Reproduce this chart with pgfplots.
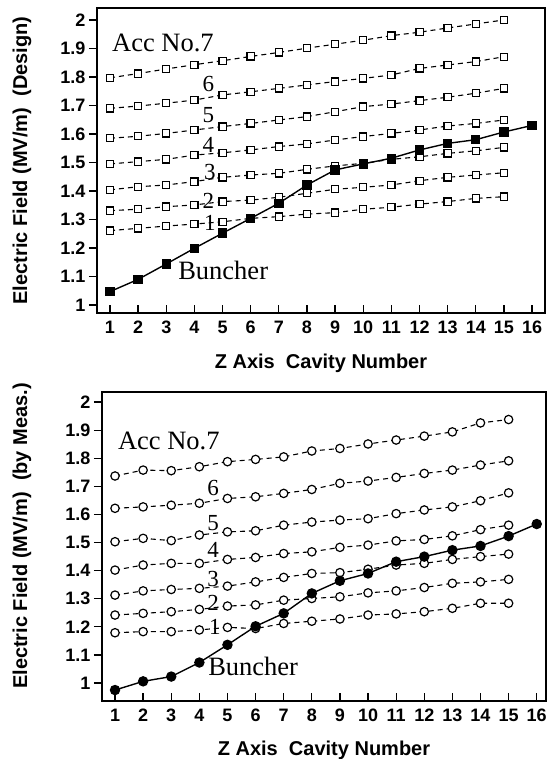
\documentclass[border=0pt]{standalone}
\usepackage{pgfplots}
\pgfplotsset{compat=1.18}
\usepackage{pgfplotstable}
\usepackage{fontspec}
\setmainfont{Liberation Serif}
\newfontfamily\lsans{Liberation Sans}

\pgfplotstableread{
x s1 s2 s3 s4 s5 s6 s7
1 1.261 1.331 1.404 1.495 1.585 1.690 1.797
2 1.269 1.336 1.415 1.503 1.592 1.698 1.812
3 1.277 1.345 1.421 1.511 1.602 1.708 1.828
4 1.284 1.351 1.433 1.526 1.614 1.719 1.843
5 1.292 1.363 1.448 1.534 1.626 1.737 1.857
6 1.304 1.368 1.456 1.544 1.637 1.748 1.872
7 1.310 1.378 1.462 1.556 1.649 1.760 1.886
8 1.319 1.392 1.476 1.565 1.661 1.772 1.901
9 1.324 1.406 1.488 1.579 1.678 1.784 1.915
10 1.336 1.413 1.497 1.591 1.696 1.795 1.929
11 1.343 1.421 1.511 1.602 1.705 1.807 1.945
12 1.354 1.436 1.520 1.614 1.717 1.830 1.957
13 1.363 1.448 1.532 1.628 1.729 1.842 1.972
14 1.374 1.456 1.541 1.637 1.743 1.854 1.986
15 1.380 1.464 1.553 1.649 1.760 1.871 2.000
}\design

\pgfplotstableread{
x b
1 1.047
2 1.090
3 1.144
4 1.199
5 1.252
6 1.304
7 1.357
8 1.421
9 1.474
10 1.495
11 1.515
12 1.544
13 1.567
14 1.580
15 1.607
16 1.630
}\designb

\pgfplotstableread{
x s1 s2 s3 s4 s5 s6 s7
1 1.179 1.242 1.313 1.402 1.503 1.622 1.737
2 1.183 1.248 1.328 1.420 1.515 1.627 1.758
3 1.183 1.254 1.333 1.426 1.507 1.633 1.756
4 1.189 1.262 1.337 1.426 1.527 1.640 1.770
5 1.198 1.274 1.345 1.440 1.538 1.657 1.788
6 1.194 1.278 1.360 1.447 1.542 1.663 1.796
7 1.212 1.295 1.376 1.461 1.562 1.675 1.805
8 1.220 1.301 1.390 1.467 1.573 1.689 1.826
9 1.228 1.307 1.393 1.483 1.580 1.711 1.835
10 1.242 1.321 1.405 1.491 1.585 1.719 1.851
11 1.246 1.328 1.420 1.506 1.603 1.732 1.865
12 1.254 1.340 1.426 1.511 1.616 1.746 1.879
13 1.266 1.355 1.440 1.524 1.627 1.758 1.894
14 1.284 1.360 1.450 1.546 1.649 1.776 1.926
15 1.284 1.369 1.459 1.562 1.677 1.791 1.938
}\meas

\pgfplotstableread{
x b
1 0.975
2 1.006
3 1.023
4 1.073
5 1.136
6 1.202
7 1.248
8 1.319
9 1.364
10 1.390
11 1.432
12 1.450
13 1.473
14 1.488
15 1.523
16 1.566
}\measb

\tikzset{
  lbl/.style={font=\fontsize{23}{25}\selectfont, inner sep=0pt},
  txt/.style={font=\fontsize{26.5}{29}\selectfont, inner sep=0pt, anchor=west},
}
\newcommand{\labfont}{\lsans\fontsize{18}{20}\selectfont\bfseries}
\newcommand{\axlabfont}{\lsans\fontsize{20}{22}\selectfont\bfseries}

\pgfplotsset{
  accstyle/.style={
    scale only axis,
    tick pos=left,
    xtick align=inside,
    ytick align=outside,
    major tick length=8pt,
    axis line style={line width=1.6pt},
    every tick/.style={line width=1.3pt, black},
    xtick={1,...,16},
    ytick={1,1.1,...,2.01},
    /pgf/number format/assume math mode=true,
    ticklabel style={font=\labfont},
    xticklabel style={text height=13pt, text depth=0pt, anchor=north, yshift=-4pt},
    xlabel={Z Axis\ \ Cavity Number},
    clip=false,
  },
  sq/.style={black, line width=1.1pt, dash pattern=on 5pt off 4pt,
    mark=square*, mark size=3.6pt, mark options={solid, fill=white, line width=1.2pt}},
  ci/.style={black, line width=1.1pt, dash pattern=on 5pt off 4pt,
    mark=*, mark size=4.2pt, mark options={solid, fill=white, line width=1.2pt}},
}

\begin{document}
\begin{tikzpicture}
\useasboundingbox (-97pt,-446pt) rectangle (457pt,313pt);
\begin{axis}[accstyle,
  at={(0pt,0pt)}, anchor=south west,
  width=448pt, height=305pt,
  xmin=0.538, xmax=16.46, ymin=0.972, ymax=2.042,
  ylabel={Electric Field (MV/m)\ \ (Design)},
  every axis y label/.style={at={(axis description cs:0,0.5)}, xshift=-75pt, rotate=90, anchor=center, font=\axlabfont},
  every axis x label/.style={at={(axis description cs:0.5,0)}, yshift=-50pt, anchor=center, font=\axlabfont},
]
\foreach \s in {s1,s2,s3,s4,s5,s6,s7}{
  \addplot[sq] table[x=x, y=\s] {\design};
}
\addplot[black, line width=1.4pt, mark=square*, mark size=4pt, mark options={fill=black}] table[x=x, y=b] {\designb};
\node[lbl] at (axis cs:4.5,1.775) {6};
\node[lbl] at (axis cs:4.5,1.668) {5};
\node[lbl] at (axis cs:4.5,1.561) {4};
\node[lbl] at (axis cs:4.55,1.466) {3};
\node[lbl] at (axis cs:4.5,1.367) {2};
\node[lbl] at (axis cs:4.55,1.289) {1};
\node[txt] at (axis cs:3.42,1.123) {Buncher};
\node[txt] at (axis cs:1.07,1.92) {Acc No.7};
\end{axis}

\begin{axis}[accstyle,
  at={(5pt,-388pt)}, anchor=south west,
  width=444pt, height=309pt,
  xmin=0.537, xmax=16.33, ymin=0.936, ymax=2.036,
  ylabel={Electric Field (MV/m)\ \ (by Meas.)},
  every axis y label/.style={at={(axis description cs:0,0.534)}, xshift=-80pt, rotate=90, anchor=center, font=\axlabfont},
  every axis x label/.style={at={(axis description cs:0.5,0)}, yshift=-49pt, anchor=center, font=\axlabfont},
]
\foreach \s in {s1,s2,s3,s4,s5,s6,s7}{
  \addplot[ci] table[x=x, y=\s] {\meas};
}
\addplot[black, line width=1.4pt, mark=*, mark size=4.5pt, mark options={fill=black}] table[x=x, y=b] {\measb};
\node[lbl] at (axis cs:4.49,1.693) {6};
\node[lbl] at (axis cs:4.49,1.568) {5};
\node[lbl] at (axis cs:4.49,1.473) {4};
\node[lbl] at (axis cs:4.49,1.370) {3};
\node[lbl] at (axis cs:4.49,1.287) {2};
\node[lbl] at (axis cs:4.55,1.20) {1};
\node[txt] at (axis cs:4.31,1.058) {Buncher};
\node[txt] at (axis cs:1.1,1.862) {Acc No.7};
\end{axis}
\end{tikzpicture}
\end{document}
